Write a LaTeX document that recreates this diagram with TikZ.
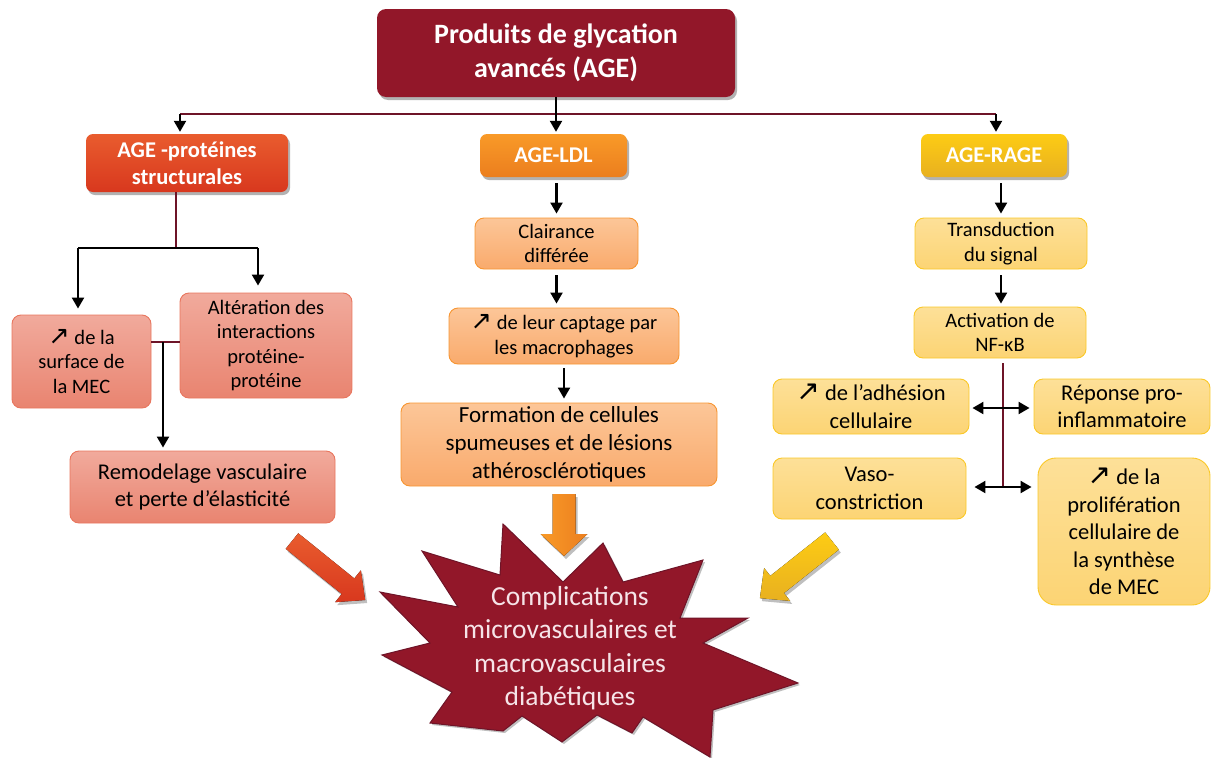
\documentclass[tikz,border=0pt]{standalone}
\usepackage{fontspec}
\setmainfont{Carlito}
\newfontfamily\symfont{DejaVu Sans}
\usetikzlibrary{arrows.meta,shadows,calc}
\definecolor{titleC}{RGB}{146,23,41}
\definecolor{maroon}{RGB}{110,20,40}
\definecolor{hRedT}{RGB}{233,92,46}
\definecolor{hRedB}{RGB}{216,56,30}
\definecolor{hOrT}{RGB}{249,154,40}
\definecolor{hOrB}{RGB}{235,126,30}
\definecolor{hYeT}{RGB}{253,204,20}
\definecolor{hYeB}{RGB}{232,176,32}
\definecolor{lRedT}{RGB}{241,170,156}
\definecolor{lRedB}{RGB}{233,132,112}
\definecolor{lRedD}{RGB}{232,118,94}
\definecolor{lOrT}{RGB}{252,198,152}
\definecolor{lOrB}{RGB}{249,170,108}
\definecolor{lOrD}{RGB}{247,150,50}
\definecolor{lYeT}{RGB}{253,224,152}
\definecolor{lYeB}{RGB}{252,212,116}
\definecolor{lYeD}{RGB}{250,200,40}
\definecolor{starText}{RGB}{246,228,232}
\newcommand\upar{\scalebox{1.25}{\symfont ↗}}
\tikzset{
  base/.style={rectangle, align=center, inner sep=0pt, text=black},
  hdr/.style={base, rounded corners=7pt, text=white,
     font=\bfseries\fontsize{22.5}{27}\selectfont,
     drop shadow={shadow xshift=2pt, shadow yshift=-3pt, opacity=0.3, fill=black}},
  lbox/.style={base, rounded corners=9pt, line width=0.9pt},
  redbox/.style={lbox, draw=lRedD, top color=lRedT, bottom color=lRedB},
  orbox/.style={lbox, draw=lOrD, top color=lOrT, bottom color=lOrB},
  yebox/.style={lbox, draw=lYeD, top color=lYeT, bottom color=lYeB},
  fsmall/.style={font=\fontsize{20.5}{24.5}\selectfont},
  fmid/.style={font=\fontsize{22.5}{27.5}\selectfont},
  mline/.style={draw=maroon, line width=2.2pt},
  bline/.style={draw=black, line width=2.2pt},
  arr/.style={bline, -{Triangle[length=11pt,width=12pt]}},
  darr/.style={bline, {Triangle[length=11pt,width=12pt]}-{Triangle[length=11pt,width=12pt]}},
  blockshadow/.style={drop shadow={shadow xshift=2pt, shadow yshift=-3pt, opacity=0.25, fill=black}}
}
\begin{document}
\begin{tikzpicture}[x=1pt, y=-1pt]
\useasboundingbox (0,0) rectangle (1211,758);

% title
\node[base, rounded corners=9pt, fill=titleC, text=white,
      font=\bfseries\fontsize{28}{34}\selectfont,
      drop shadow={shadow xshift=2pt, shadow yshift=-3pt, opacity=0.3, fill=black},
      minimum width=358pt, minimum height=88pt] (title) at (556,53)
      {Produits de glycation\\avancés (AGE)};

% headers
\node[hdr, top color=hRedT, bottom color=hRedB, minimum width=202pt, minimum height=58pt]
   (prot) at (187,163) {AGE -protéines\\structurales};
\node[hdr, top color=hOrT, bottom color=hOrB, minimum width=147pt, minimum height=43pt]
   (ldl) at (553.5,155.5) {AGE-LDL};
\node[hdr, top color=hYeT, bottom color=hYeB, minimum width=146pt, minimum height=43pt]
   (rage) at (994,155.5) {AGE-RAGE};

% left column
\node[redbox, fsmall, minimum width=139pt, minimum height=93pt] (surf) at (81.5,361.5)
   {\upar{} de la\\surface de\\la MEC};
\node[redbox, fsmall, minimum width=172pt, minimum height=105pt] (alter) at (266,345.5)
   {Altération des\\interactions\\protéine-\\protéine};
\node[redbox, fmid, minimum width=265pt, minimum height=72pt] (remod) at (202.5,487)
   {Remodelage vasculaire\\et perte d’élasticité};

% middle column
\node[orbox, fsmall, minimum width=163pt, minimum height=51pt] (clair) at (556.5,243.5)
   {Clairance\\différée};
\node[orbox, fsmall, minimum width=230pt, minimum height=56pt] (capt) at (564,336)
   {\upar{} de leur captage par\\les macrophages};
\node[orbox, font=\fontsize{23}{28}\selectfont, minimum width=316pt, minimum height=83pt] (form) at (559,444.5)
   {Formation de cellules\\spumeuses et de lésions\\athérosclérotiques};

% right column
\node[yebox, fsmall, minimum width=172pt, minimum height=51pt] (trans) at (1001,243.5)
   {Transduction\\du signal};
\node[yebox, fsmall, minimum width=172pt, minimum height=51pt] (activ) at (1000,332.5)
   {Activation de\\NF-κB};
\node[yebox, fmid, minimum width=196pt, minimum height=55pt] (adh) at (871,406.5)
   {\upar{} de l’adhésion\\cellulaire};
\node[yebox, fmid, minimum width=176pt, minimum height=55pt] (repo) at (1122,406.5)
   {Réponse pro-\\inflammatoire};
\node[yebox, fmid, minimum width=193pt, minimum height=61pt] (vaso) at (869.5,488.5)
   {Vaso-\\constriction};
\node[yebox, fmid, rounded corners=18pt, minimum width=172pt, minimum height=147pt] (prolif) at (1124,531.5)
   {\upar{} de la\\prolifération\\cellulaire de\\la synthèse\\de MEC};

% top connectors
\coordinate (hL) at (180,114);
\coordinate (hR) at (996,114);
\draw[mline] (hL) -- (hR);
\draw[arr, shorten >=2pt] (hL) -- (hL |- prot.north);
\draw[arr, shorten >=2pt] (hR) -- (hR |- rage.north);
\draw[arr, shorten >=2pt] (title.south) -- (title.south |- ldl.north);

% left connectors
\coordinate (pb) at (176,248);
\coordinate (pbL) at (78,248);
\coordinate (pbR) at (258,248);
\draw[mline] (pb |- prot.south) -- (pb);
\draw[bline] (pbL) -- (pbR);
\draw[arr, shorten >=6pt] (pbL) -- (pbL |- surf.north);
\draw[arr, shorten >=7pt] (pbR) -- (pbR |- alter.north);
\coordinate (sm) at (163,342);
\draw[mline] (sm -| surf.east) -- (sm -| alter.west);
\draw[arr, shorten >=3pt] (sm) -- (sm |- remod.north);

% middle connectors
\draw[arr, shorten <=6pt, shorten >=4pt] (clair.north |- ldl.south) -- (clair.north);
\draw[arr, shorten <=6pt, shorten >=4pt] (clair.south) -- (clair.south |- capt.north);
\draw[arr, shorten <=4pt, shorten >=4pt] (capt.south) -- (capt.south |- form.north);

% right connectors
\draw[arr, shorten <=6pt, shorten >=4pt] (trans.north |- rage.south) -- (trans.north);
\draw[arr, shorten <=6pt, shorten >=3pt] (trans.south) -- (trans.south |- activ.north);
\coordinate (a1) at (1003,408);
\coordinate (a2) at (1003,487);
\draw[mline, shorten <=5pt] (a2 |- activ.south) -- (a2);
\draw[darr, shorten <=3pt, shorten >=4pt] (a1 -| adh.east) -- (a1 -| repo.west);
\draw[darr, shorten <=8pt, shorten >=6pt] (a2 -| vaso.east) -- (a2 -| prolif.west);

% block arrows
\begin{scope}[shift={(292,541)}, rotate=-38.9]
  \fill[top color=hRedT, bottom color=hRedB, blockshadow]
    (0,-10) -- (72,-10) -- (72,-20.5) -- (94,0) -- (72,20.5) -- (72,10) -- (0,10) -- cycle;
\end{scope}
\begin{scope}[shift={(564,494)}, rotate=-90]
  \fill[left color=hOrT, right color=hOrB, blockshadow]
    (0,-11.5) -- (40,-11.5) -- (40,-23.5) -- (62,0) -- (40,23.5) -- (40,11.5) -- (0,11.5) -- cycle;
\end{scope}
\begin{scope}[shift={(832,541)}, rotate=-141.6]
  \fill[top color=hYeT, bottom color=hYeB, blockshadow]
    (0,-11) -- (70,-11) -- (70,-21) -- (92,0) -- (70,21) -- (70,11) -- (0,11) -- cycle;
\end{scope}

% star
\fill[titleC, draw=maroon, line width=1pt, line join=miter,
      drop shadow={shadow xshift=2pt, shadow yshift=-2pt, opacity=0.25, fill=black}]
  (503,524) -- (563,582) -- (603,543) -- (623,582) -- (703,560) -- (680,618)
  -- (748,618) -- (703,643) -- (798,683) -- (713,710) -- (710,757) -- (643,717)
  -- (632,733) -- (597,715) -- (562,742) -- (522,716) -- (503,731) -- (430,723)
  -- (452,692) -- (382,655) -- (430,643) -- (380,592) -- (458,607) -- (422,551)
  -- (500,575) -- cycle;
\node[base, text=starText, font=\fontsize{27.5}{33.5}\selectfont] (cmp) at (570,648)
  {Complications\\microvasculaires et\\macrovasculaires\\diabétiques};
\end{tikzpicture}
\end{document}
